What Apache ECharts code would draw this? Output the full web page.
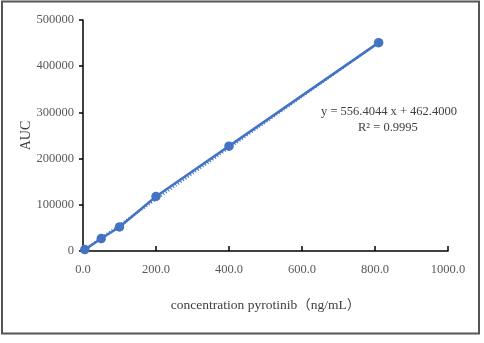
<!DOCTYPE html>
<html>
<head>
<meta charset="utf-8">
<script src="https://cdn.jsdelivr.net/npm/echarts@6/dist/echarts.min.js"></script>
<style>
html,body{margin:0;padding:0;background:#fff;}
#chart{width:484px;height:343px;}
</style>
</head>
<body>
<div id="chart"></div>
<script>
// measured points (ng/mL , AUC)
var conc = [5, 50, 100, 200, 400, 810];
var auc = [3000, 27000, 52000, 118000, 227000, 451000];
// linear trend shown on the chart
var slope = 556.4044, intercept = 462.4;
var eqText = 'y = 556.4044 x + 462.4000';
var r2Text = 'R\u00b2 = 0.9995';

var blue = '#4472C4';
var serif = '"Liberation Serif","Times New Roman","Noto Sans CJK SC",serif';

var chart = echarts.init(document.getElementById('chart'));

var pts = conc.map((c, i) => [c, auc[i]]);
var trend = [conc[0], conc[conc.length - 1]].map(c => [c, slope * c + intercept]);

chart.setOption({
	animation: false,
	backgroundColor: '#fff',
	grid: {left: 83, right: 36, top: 20, bottom: 92},
	xAxis: {
		type: 'value',
		min: 0, max: 1000, interval: 200,
		name: 'concentration pyrotinib\uff08ng/mL\uff09',
		nameLocation: 'middle',
		nameGap: 48,
		nameMoveOverlap: false,
		nameTextStyle: {color: '#404040', fontFamily: serif, fontSize: 13.5},
		axisLine: {lineStyle: {color: '#000', width: 1.5}},
		axisTick: {inside: true, length: 5, lineStyle: {color: '#000', width: 1.5}},
		axisLabel: {
			color: '#595959', fontFamily: serif, fontSize: 12.5, margin: 12,
			formatter: v => v.toFixed(1)
		},
		splitLine: {show: false}
	},
	yAxis: {
		type: 'value',
		min: 0, max: 500000, interval: 100000,
		name: 'AUC',
		nameLocation: 'middle',
		nameGap: 50,
		nameMoveOverlap: false,
		nameTextStyle: {color: '#404040', fontFamily: serif, fontSize: 14},
		axisLine: {lineStyle: {color: '#000', width: 1.5}},
		axisTick: {length: 4, lineStyle: {color: '#000', width: 1.5}},
		axisLabel: {
			color: '#595959', fontFamily: serif, fontSize: 12.5, margin: 9,
			formatter: v => String(v)
		},
		splitLine: {show: false}
	},
	series: [
		{
			type: 'line',
			data: trend,
			symbol: 'none',
			lineStyle: {color: blue, width: 2.5, type: [1, 2]},
			z: 1
		},
		{
			type: 'line',
			data: pts,
			symbol: 'circle',
			symbolSize: 9.5,
			itemStyle: {color: blue},
			lineStyle: {color: blue, width: 2.5},
			z: 2
		}
	],
	graphic: [
		{
			type: 'rect',
			shape: {x: 2, y: 1.5, width: 477, height: 332},
			style: {fill: 'none', stroke: '#555', lineWidth: 2}
		},
		{
			type: 'text', left: 321, top: 105,
			style: {text: eqText, fill: '#404040', font: '12.5px ' + serif}
		},
		{
			type: 'text', left: 358, top: 121,
			style: {text: r2Text, fill: '#404040', font: '12.5px ' + serif}
		}
	]
});
</script>
</body>
</html>
